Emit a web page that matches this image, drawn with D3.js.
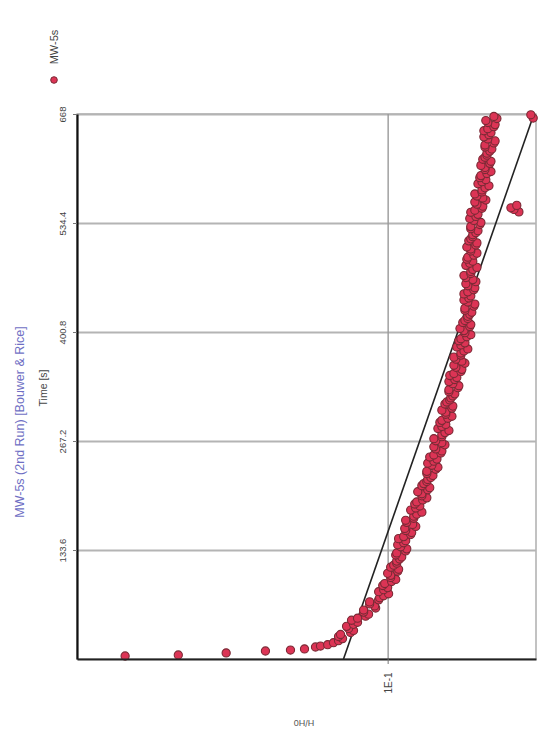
<!DOCTYPE html>
<html>
<head>
<meta charset="utf-8">
<script src="https://cdn.jsdelivr.net/npm/d3@7"></script>
<style>
  html, body { margin: 0; padding: 0; background: #fff; }
  svg { display: block; font-family: "Liberation Sans", Arial, sans-serif; }
</style>
</head>
<body>
<svg id="chart" width="548" height="740"></svg>
<script>
// ---- data ----
const title = "MW-5s (2nd Run) [Bouwer & Rice]";
const seriesName = "MW-5s";
const timeTicks = [133.6, 267.2, 400.8, 534.4, 668];
const timeTickLabels = ["133.6", "267.2", "400.8", "534.4", "668"];
const hTicks = [0.1];
const hTickLabels = ["1E-1"];
const timeDomain = [0, 668];
const hDomain = [1, 0.0333];

// observed time [s] (set A)
const obsTime = [3.7, 4.9, 7.4, 9.8, 11.0, 12.3, 14.7, 15.9, 17.5,
  20, 25, 30, 35, 40, 45, 50, 55, 60, 65, 70, 75, 80, 85, 90, 95, 100, 105, 110, 115,
  120, 125, 130, 135, 140, 145, 150, 155, 160, 165, 170, 175, 180, 185, 190, 195, 200, 205, 210, 215,
  220, 225, 230, 235, 240, 245, 250, 255, 260, 265, 270, 275, 280, 285, 290, 295, 300, 305, 310, 315,
  320, 325, 330, 335, 340, 345, 350, 355, 360, 365, 370, 375, 380, 385, 390, 395, 400, 405, 410, 415,
  420, 425, 430, 435, 440, 445, 450, 455, 460, 465, 470, 475, 480, 485, 490, 495, 500, 505, 510, 515,
  520, 525, 530, 535, 540, 545, 550, 555, 560, 565, 570, 575, 580, 585, 590, 595, 600, 605, 610, 615,
  620, 625, 630, 635, 640, 645, 650, 655, 660, 665,
  548, 553, 556, 551, 663, 667];
// observed H/H0 (set A)
const obsH = [0.700, 0.472, 0.331, 0.2474, 0.2055, 0.1852, 0.1707, 0.1645, 0.1560,
  0.1494, 0.1397, 0.1418, 0.1288, 0.1356, 0.1250, 0.1250, 0.1152, 0.1195, 0.1101, 0.1143, 0.1061, 0.0993, 0.1030, 0.1037, 0.0971, 0.0978, 0.1000, 0.0922, 0.0956,
  0.0935, 0.0901, 0.0935, 0.0868, 0.0928, 0.0875, 0.0888, 0.0837, 0.0881, 0.0831, 0.0875, 0.0824, 0.0776, 0.0812, 0.0818, 0.0771, 0.0776, 0.0800, 0.0732, 0.0765,
  0.0743, 0.0715, 0.0748, 0.0689, 0.0743, 0.0694, 0.0710, 0.0669, 0.0710, 0.0669, 0.0710, 0.0669, 0.0635, 0.0669, 0.0679, 0.0640, 0.0650, 0.0669, 0.0617, 0.0645,
  0.0626, 0.0608, 0.0635, 0.0590, 0.0635, 0.0599, 0.0612, 0.0577, 0.0612, 0.0577, 0.0612, 0.0581, 0.0552, 0.0581, 0.0590, 0.0556, 0.0564, 0.0585, 0.0540, 0.0564,
  0.0552, 0.0536, 0.0564, 0.0524, 0.0568, 0.0540, 0.0552, 0.0524, 0.0560, 0.0532, 0.0568, 0.0540, 0.0516, 0.0544, 0.0556, 0.0528, 0.0540, 0.0556, 0.0516, 0.0540,
  0.0532, 0.0512, 0.0540, 0.0501, 0.0544, 0.0512, 0.0524, 0.0494, 0.0524, 0.0494, 0.0524, 0.0497, 0.0472, 0.0497, 0.0505, 0.0479, 0.0486, 0.0501, 0.0465, 0.0486,
  0.0479, 0.0462, 0.0486, 0.0451, 0.0490, 0.0465, 0.0476, 0.0451, 0.0483, 0.0455,
  0.0378, 0.0401, 0.0384, 0.0392, 0.0340, 0.0346];

// observed time [s] (set B, in-between readings)
const obsTimeB = [22.5, 27.5, 32.5, 37.5, 42.5, 47.5, 52.5, 57.5, 62.5, 67.5, 72.5, 77.5, 82.5, 87.5, 92.5, 97.5,
  102.5, 107.5, 112.5, 117.5, 122.5, 127.5, 132.5, 137.5, 142.5, 147.5, 152.5, 157.5, 162.5, 167.5, 172.5, 177.5,
  182.5, 187.5, 192.5, 197.5, 202.5, 207.5, 212.5, 217.5, 222.5, 227.5, 232.5, 237.5, 242.5, 247.5, 252.5, 257.5,
  262.5, 267.5, 272.5, 277.5, 282.5, 287.5, 292.5, 297.5, 302.5, 307.5, 312.5, 317.5, 322.5, 327.5, 332.5, 337.5,
  342.5, 347.5, 352.5, 357.5, 362.5, 367.5, 372.5, 377.5, 382.5, 387.5, 392.5, 397.5, 402.5, 407.5, 412.5, 417.5,
  422.5, 427.5, 432.5, 437.5, 442.5, 447.5, 452.5, 457.5, 462.5, 467.5, 472.5, 477.5, 482.5, 487.5, 492.5, 497.5,
  502.5, 507.5, 512.5, 517.5, 522.5, 527.5, 532.5, 537.5, 542.5, 547.5, 552.5, 557.5, 562.5, 567.5, 572.5, 577.5,
  582.5, 587.5, 592.5, 597.5, 602.5, 607.5, 612.5, 617.5, 622.5, 627.5, 632.5, 637.5, 642.5, 647.5, 652.5, 657.5, 662.5];
// observed H/H0 (set B)
const obsHB = [0.1439, 0.1439, 0.1316, 0.1336, 0.1288, 0.1307, 0.1178, 0.1195, 0.1093, 0.1143, 0.1069, 0.1030, 0.1069, 0.1000, 0.1022, 0.0942,
  0.0978, 0.0928, 0.0978, 0.0935, 0.0915, 0.0942, 0.0875, 0.0908, 0.0888, 0.0922, 0.0843, 0.0875, 0.0812, 0.0868, 0.0824, 0.0806,
  0.0843, 0.0788, 0.0806, 0.0748, 0.0776, 0.0743, 0.0776, 0.0748, 0.0726, 0.0748, 0.0700, 0.0721, 0.0710, 0.0732, 0.0674, 0.0700,
  0.0654, 0.0700, 0.0669, 0.0654, 0.0689, 0.0650, 0.0669, 0.0621, 0.0650, 0.0621, 0.0654, 0.0631, 0.0617, 0.0635, 0.0594, 0.0617,
  0.0608, 0.0631, 0.0581, 0.0603, 0.0564, 0.0603, 0.0581, 0.0568, 0.0599, 0.0564, 0.0581, 0.0540, 0.0568, 0.0544, 0.0573, 0.0552,
  0.0544, 0.0564, 0.0528, 0.0552, 0.0548, 0.0568, 0.0528, 0.0552, 0.0520, 0.0560, 0.0540, 0.0532, 0.0560, 0.0532, 0.0552, 0.0516,
  0.0540, 0.0520, 0.0548, 0.0532, 0.0520, 0.0540, 0.0505, 0.0528, 0.0520, 0.0540, 0.0497, 0.0516, 0.0483, 0.0516, 0.0497, 0.0486,
  0.0512, 0.0483, 0.0501, 0.0465, 0.0486, 0.0469, 0.0494, 0.0479, 0.0469, 0.0486, 0.0455, 0.0476, 0.0472, 0.0490, 0.0455, 0.0476, 0.0445];

// straight-line fit (time, H/H0)
const fitTime = [0, 668];
const fitH = [0.1387, 0.0338];

// ---- drawing ----
const svg = d3.select("#chart");
const padL = 77, padR = 536, padT = 114, padB = 659;

const y = d3.scaleLinear().domain(timeDomain).range([padB, padT]);
const x = d3.scaleLog().domain(hDomain).range([padL, padR]);

// frame (top/right) in gray
svg.append("rect").attr("x", padL).attr("y", padT)
  .attr("width", padR - padL).attr("height", padB - padT)
  .attr("fill", "#fff").attr("stroke", "#9a9a9a").attr("stroke-width", 1.2);

// time grid
const gy = svg.append("g").attr("transform", `translate(${padL},0)`)
  .call(d3.axisLeft(y).tickValues(timeTicks).tickSize(-(padR - padL)).tickFormat(""));
gy.select(".domain").remove();
gy.selectAll("line").attr("stroke", "#b4b4b4").attr("stroke-width", 1.8);

// H/H0 grid
const gx = svg.append("g").attr("transform", `translate(0,${padB})`)
  .call(d3.axisBottom(x).tickValues(hTicks).tickSize(-(padB - padT)).tickFormat(""));
gx.select(".domain").remove();
gx.selectAll("line").attr("stroke", "#9a9a9a").attr("stroke-width", 1.4);

// fit line
const fit = fitTime.map((t, i) => ({t, h: fitH[i]}));
svg.append("path").datum(fit)
  .attr("d", d3.line().x(d => x(d.h)).y(d => y(d.t)))
  .attr("stroke", "#222").attr("stroke-width", 1.6).attr("fill", "none");

// points
const pts = obsTime.map((t, i) => ({t, h: obsH[i]}))
  .concat(obsTimeB.map((t, i) => ({t, h: obsHB[i]})))
  .sort((a, b) => a.t - b.t);
svg.append("g").selectAll("circle").data(pts).join("circle")
  .attr("cx", d => x(d.h)).attr("cy", d => y(d.t)).attr("r", 4.1)
  .attr("fill", "#dc3455").attr("stroke", "#7a2a35").attr("stroke-width", 1.1);

// left axis (time)
const ay = svg.append("g").attr("transform", `translate(${padL},0)`)
  .call(d3.axisLeft(y).tickValues(timeTicks).tickSize(4).tickSizeOuter(0)
    .tickFormat((d, i) => timeTickLabels[i]));
ay.select(".domain").attr("stroke", "#111").attr("stroke-width", 2.2);
ay.selectAll("line").attr("stroke", "#777");
ay.selectAll("text")
  .attr("transform", "rotate(-90)").attr("x", 0).attr("y", -11).attr("dy", 0)
  .style("text-anchor", "middle").attr("fill", "#444").style("font-size", "9.5px");

// bottom axis (H/H0)
const ax = svg.append("g").attr("transform", `translate(0,${padB})`)
  .call(d3.axisBottom(x).tickValues(hTicks).tickSize(5).tickSizeOuter(0)
    .tickFormat((d, i) => hTickLabels[i]));
ax.select(".domain").attr("stroke", "#222").attr("stroke-width", 2.2);
ax.selectAll("line").attr("stroke", "#777");
ax.selectAll("text")
  .attr("transform", "rotate(-90)").attr("x", -24).attr("y", 3.5).attr("dy", 0)
  .style("text-anchor", "middle").attr("fill", "#444").style("font-size", "10px");

// axis titles
svg.append("text").attr("transform", "translate(47,388) rotate(-90)")
  .attr("text-anchor", "middle").attr("fill", "#444").style("font-size", "10.5px")
  .text("Time [s]");
svg.append("text").attr("transform", "translate(304,719.5) rotate(180)")
  .attr("text-anchor", "middle").attr("fill", "#555").style("font-size", "9px")
  .text("H/H0");

// chart title
svg.append("text").attr("transform", "translate(24,422) rotate(-90)")
  .attr("text-anchor", "middle").attr("fill", "#6f6fc4").style("font-size", "12.5px")
  .text(title);

// legend
svg.append("circle").attr("cx", 54).attr("cy", 80).attr("r", 3.3)
  .attr("fill", "#dc3455").attr("stroke", "#7a2a35").attr("stroke-width", 1);
svg.append("text").attr("transform", "translate(58,47) rotate(-90)")
  .attr("text-anchor", "middle").attr("fill", "#444").style("font-size", "11px")
  .text(seriesName);
</script>
</body>
</html>
